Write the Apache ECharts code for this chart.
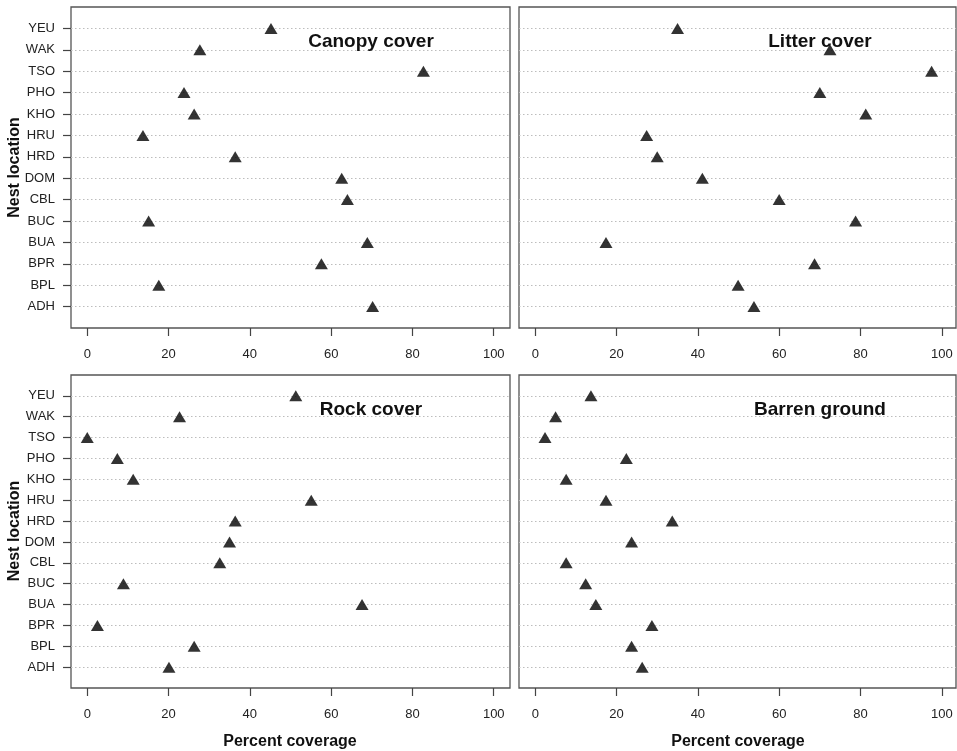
<!DOCTYPE html>
<html>
<head>
<meta charset="utf-8">
<script src="https://cdn.jsdelivr.net/npm/echarts@6/dist/echarts.min.js"></script>
<style>
  html, body { margin: 0; padding: 0; background: #fff; }
  #chart { width: 957px; height: 751px; }
</style>
</head>
<body>
<div id="chart"></div>
<script>
// nest locations, bottom to top
var locations = ['ADH', 'BPL', 'BPR', 'BUA', 'BUC', 'CBL', 'DOM', 'HRD', 'HRU', 'KHO', 'PHO', 'TSO', 'WAK', 'YEU'];
var xTicks = [0, 20, 40, 60, 80, 100];

// percent coverage, same order as locations
var canopy = [70.2, 17.6, 57.6, 68.9, 15.1, 64.0, 62.6, 36.4, 13.7, 26.3, 23.8, 82.7, 27.7, 45.2];
var litter = [53.8, 49.9, 68.7, 17.4, 78.8, 60.0, 41.1, 30.0, 27.4, 81.3, 70.0, 97.5, 72.5, 35.0];
var rock = [20.1, 26.3, 2.5, 67.6, 8.9, 32.6, 35.0, 36.4, 55.1, 11.3, 7.4, 0, 22.7, 51.3];
var barren = [26.3, 23.7, 28.7, 14.9, 12.4, 7.6, 23.7, 33.7, 17.4, 7.6, 22.4, 2.4, 5.0, 13.7];

var panelTitles = ['Canopy cover', 'Litter cover', 'Rock cover', 'Barren ground'];
var panelData = [canopy, litter, rock, barren];

var FONT = '"Liberation Sans", Arial, Helvetica, sans-serif';
// padded category list so the first/last rows sit one step inside the box
var yCats = [''].concat(locations, ['']);

var grids = [
    {left: 71, top: 7, width: 439, height: 321},
    {left: 519, top: 7, width: 437, height: 321},
    {left: 71, top: 375, width: 439, height: 313},
    {left: 519, top: 375, width: 437, height: 313}
];
var xRanges = [[-4, 104], [-4, 103.5], [-4, 104], [-4, 103.5]];

var chart = echarts.init(document.getElementById('chart'));

var xAxes = [], yAxes = [], series = [], graphics = [];
grids.forEach(function (g, i) {
    g.show = true;
    g.borderColor = '#555';
    g.borderWidth = 1.3;
    g.backgroundColor = 'transparent';
    g.containLabel = false;

    xAxes.push({
        type: 'value',
        gridIndex: i,
        min: xRanges[i][0],
        max: xRanges[i][1],
        axisLine: {show: false, onZero: false},
        splitLine: {show: false},
        axisTick: {
            show: true, length: 8, inside: false, customValues: xTicks,
            lineStyle: {color: '#444', width: 1.2}
        },
        axisLabel: {
            show: true, customValues: xTicks, margin: 20,
            color: '#222', fontSize: 13, fontFamily: FONT
        }
    });

    var leftCol = (i % 2 === 0);
    yAxes.push({
        type: 'category',
        gridIndex: i,
        data: yCats,
        boundaryGap: false,
        axisLine: {show: false, onZero: false},
        axisTick: {
            show: leftCol, length: 8,
            interval: function (idx, val) { return val !== ''; },
            lineStyle: {color: '#444', width: 1.2}
        },
        axisLabel: {
            show: leftCol, margin: 16, interval: 0,
            color: '#222', fontSize: 13, fontFamily: FONT
        },
        splitLine: {
            show: true,
            interval: function (idx, val) { return val !== ''; },
            lineStyle: {color: '#bdbdbd', type: [1.5, 2.5], width: 1}
        }
    });

    series.push({
        type: 'scatter',
        xAxisIndex: i,
        yAxisIndex: i,
        symbol: 'triangle',
        symbolSize: [13, 11],
        itemStyle: {color: '#000'},
        data: panelData[i].map(function (v, k) { return [v, locations[k]]; }),
        silent: true,
        z: 5
    });

    var cx = leftCol ? 371 : 820;
    var cy = g.top + 35;
    graphics.push({
        type: 'text',
        x: cx, y: cy,
        style: {
            text: panelTitles[i],
            fontFamily: FONT, fontSize: 19, fontWeight: 'bold',
            fill: '#111', textAlign: 'center', textVerticalAlign: 'middle'
        },
        z: 10
    });
});

// axis titles
graphics.push({
    type: 'text', x: 15, y: 167.5, rotation: Math.PI / 2,
    style: {text: 'Nest location', fontFamily: FONT, fontSize: 16, fontWeight: 'bold',
        fill: '#111', textAlign: 'center', textVerticalAlign: 'middle'}
});
graphics.push({
    type: 'text', x: 15, y: 531, rotation: Math.PI / 2,
    style: {text: 'Nest location', fontFamily: FONT, fontSize: 16, fontWeight: 'bold',
        fill: '#111', textAlign: 'center', textVerticalAlign: 'middle'}
});
graphics.push({
    type: 'text', x: 290, y: 742,
    style: {text: 'Percent coverage', fontFamily: FONT, fontSize: 16, fontWeight: 'bold',
        fill: '#111', textAlign: 'center', textVerticalAlign: 'middle'}
});
graphics.push({
    type: 'text', x: 738, y: 742,
    style: {text: 'Percent coverage', fontFamily: FONT, fontSize: 16, fontWeight: 'bold',
        fill: '#111', textAlign: 'center', textVerticalAlign: 'middle'}
});

chart.setOption({
    animation: false,
    backgroundColor: '#fff',
    grid: grids,
    xAxis: xAxes,
    yAxis: yAxes,
    series: series,
    graphic: graphics
});
</script>
</body>
</html>
